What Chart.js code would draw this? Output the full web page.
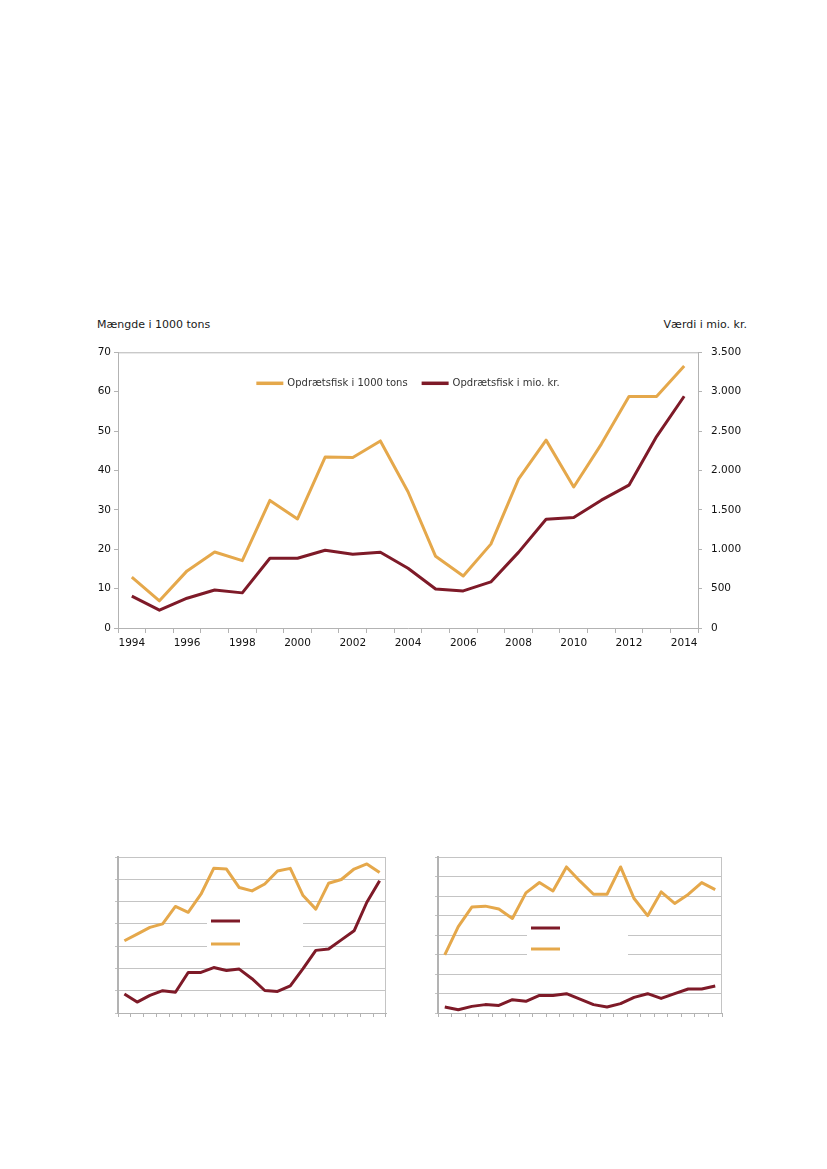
<!DOCTYPE html>
<html>
<head>
<meta charset="utf-8">
<script src="https://cdn.jsdelivr.net/npm/chart.js@4.4.1/dist/chart.umd.min.js"></script>
<style>
  html, body { margin: 0; padding: 0; background: #fff; width: 827px; height: 1169px; overflow: hidden; }
  .box { position: absolute; }
  .ttl { position: absolute; font: 11px "DejaVu Sans", Verdana, sans-serif; color: #1a1a1a; white-space: nowrap; }
</style>
</head>
<body>
<div class="ttl" style="left:97px; top:318px">Mængde i 1000 tons</div>
<div class="ttl" style="right:80px; top:318px">Værdi i mio. kr.</div>
<div class="box" style="left:70px; top:337px; width:720px; height:325px"><canvas id="mainChart"></canvas></div>
<div class="box" style="left:100px; top:845px; width:300px; height:180px"><canvas id="smallA"></canvas></div>
<div class="box" style="left:420px; top:845px; width:320px; height:180px"><canvas id="smallB"></canvas></div>

<script>
// --- 1. Data ---
const years = ['1994', '1995', '1996', '1997', '1998', '1999', '2000', '2001', '2002', '2003', '2004',
               '2005', '2006', '2007', '2008', '2009', '2010', '2011', '2012', '2013', '2014'];
const tonsLabel = 'Opdrætsfisk i 1000 tons';
const mioLabel = 'Opdrætsfisk i mio. kr.';
const tonsData = [12.9, 6.9, 14.5, 19.3, 17.1, 32.4, 27.7, 43.4, 43.3, 47.5, 34.6,
                  18.2, 13.2, 21.3, 37.8, 47.7, 35.8, 46.7, 58.8, 58.8, 66.5];
const mioData = [405, 226, 378, 482, 446, 885, 885, 987, 936, 962, 759,
                 495, 471, 585, 960, 1380, 1402, 1623, 1813, 2430, 2942];
const leftAxis = { max: 70, step: 10 };
const rightAxis = { max: 3500, step: 500 };

// the two small unlabelled panels
const smallARed = [8.5, 4.9, 7.9, 10.0, 9.3, 18.2, 18.2, 20.4, 19.1, 19.7, 15.4,
                   10.1, 9.7, 12.2, 19.9, 28.1, 28.7, 32.8, 36.9, 49.7, 59.3];
const smallAYellow = [32.4, 35.4, 38.4, 40.0, 47.8, 45.2, 53.3, 64.9, 64.6, 56.3, 54.8,
                      57.9, 63.7, 64.9, 52.7, 46.6, 58.2, 59.9, 64.6, 66.9, 63.0];
const smallBRed = [3.1, 1.7, 3.4, 4.3, 3.9, 6.8, 6.0, 9.0, 9.0, 9.9, 7.1,
                   4.3, 3.1, 4.8, 8.0, 9.9, 7.5, 9.9, 12.3, 12.3, 13.8];
const smallBYellow = [29.8, 44.3, 54.3, 54.8, 53.3, 48.5, 61.6, 66.9, 62.6, 74.9, 67.6,
                      60.9, 60.9, 74.9, 58.7, 49.9, 62.1, 56.2, 60.8, 66.9, 63.3];
const smallAAxis = { max: 70, step: 10 };
const smallBAxis = { max: 80, step: 10 };

// --- 2. Style ---
const yellow = '#E5A84B';
const maroon = '#7E1A28';
const axisGray = '#b3b3b3';
const gridGray = '#c4c4c4';
const tickFont = { family: 'DejaVu Sans', size: 10.5 };
const textColor = '#111';

function dotThousands(v) {
    return String(v).replace(/\B(?=(\d{3})+(?!\d))/g, '.');
}

// top + right frame of the plot area
const frameBorder = {
    id: 'frameBorder',
    afterDraw(chart, args, opts) {
        const { ctx, chartArea: a } = chart;
        ctx.save();
        ctx.strokeStyle = opts.color || axisGray;
        ctx.lineWidth = 1;
        ctx.beginPath();
        if (opts.top) { ctx.moveTo(a.left, a.top + 0.5); ctx.lineTo(a.right, a.top + 0.5); }
        if (opts.right) { ctx.moveTo(a.right - 0.5, a.top); ctx.lineTo(a.right - 0.5, a.bottom); }
        ctx.stroke();
        ctx.restore();
    }
};

// legend drawn inside the plot area (main chart)
const innerLegend = {
    id: 'innerLegend',
    afterDatasetsDraw(chart, args, opts) {
        if (!opts.enabled) return;
        const { ctx, chartArea: a } = chart;
        const sets = chart.data.datasets;
        ctx.save();
        ctx.font = '10px "DejaVu Sans"';
        const lineLen = 27, gapText = 4, gapItem = 14;
        let total = 0;
        sets.forEach((d, i) => {
            total += lineLen + gapText + ctx.measureText(d.label).width;
            if (i < sets.length - 1) total += gapItem;
        });
        let x = (a.left + a.right) / 2 - total / 2;
        const y = a.top + opts.offsetY;
        sets.forEach(d => {
            ctx.strokeStyle = d.borderColor;
            ctx.lineWidth = 3.5;
            ctx.beginPath();
            ctx.moveTo(x, y); ctx.lineTo(x + lineLen, y);
            ctx.stroke();
            x += lineLen + gapText;
            ctx.fillStyle = '#333';
            ctx.textBaseline = 'middle';
            ctx.fillText(d.label, x, y + 0.5);
            x += ctx.measureText(d.label).width + gapItem;
        });
        ctx.restore();
    }
};

// white legend box with stacked line samples (small panels)
const boxLegend = {
    id: 'boxLegend',
    afterDatasetsDraw(chart, args, opts) {
        if (!opts.enabled) return;
        const { ctx, chartArea: a } = chart;
        ctx.save();
        ctx.fillStyle = '#fff';
        ctx.fillRect(a.left + opts.x, a.top + opts.y, opts.w, opts.h);
        opts.rows.forEach(r => {
            const d = chart.data.datasets[r.index];
            ctx.strokeStyle = d.borderColor;
            ctx.lineWidth = 3;
            ctx.beginPath();
            ctx.moveTo(a.left + opts.x + 4, a.top + r.y);
            ctx.lineTo(a.left + opts.x + 33, a.top + r.y);
            ctx.stroke();
        });
        ctx.restore();
    }
};

Chart.register(frameBorder, innerLegend, boxLegend);

// --- 3. Main chart ---
new Chart(document.getElementById('mainChart'), {
    type: 'line',
    data: {
        labels: years,
        datasets: [
            { label: tonsLabel, data: tonsData, yAxisID: 'yL', borderColor: yellow, borderWidth: 3 },
            { label: mioLabel, data: mioData, yAxisID: 'yR', borderColor: maroon, borderWidth: 3 }
        ]
    },
    options: {
        responsive: true,
        maintainAspectRatio: false,
        animation: false,
        layout: { padding: { top: 0, left: 0, right: 0, bottom: 0 } },
        elements: { point: { radius: 0 }, line: { tension: 0, borderJoinStyle: 'round' } },
        plugins: {
            legend: { display: false },
            tooltip: { enabled: false },
            frameBorder: { top: true, right: false, color: axisGray },
            innerLegend: { enabled: true, offsetY: 31 },
            boxLegend: { enabled: false }
        },
        scales: {
            x: {
                offset: true,
                grid: { offset: true, drawOnChartArea: false, tickLength: 5, color: axisGray },
                border: { color: axisGray },
                ticks: {
                    autoSkip: false, maxRotation: 0, padding: 4, color: textColor, font: tickFont,
                    callback(v, i) { return i % 2 === 0 ? this.getLabelForValue(v) : ''; }
                },
                afterFit(s) { s.height = 34; }
            },
            yL: {
                position: 'left', min: 0, max: leftAxis.max,
                grid: { drawOnChartArea: false, tickLength: 4, color: axisGray },
                border: { color: axisGray },
                ticks: { stepSize: leftAxis.step, padding: 3, color: textColor, font: tickFont },
                afterFit(s) { s.width = 48; }
            },
            yR: {
                position: 'right', min: 0, max: rightAxis.max,
                grid: { drawOnChartArea: false, tickLength: 4, color: axisGray },
                border: { color: axisGray },
                ticks: { stepSize: rightAxis.step, padding: 9, color: textColor, font: tickFont, callback: v => dotThousands(v) },
                afterFit(s) { s.width = 92; }
            }
        }
    }
});

// --- 4. Small panels ---
function smallPanel(id, red, yel, axis, legendOpts, padRight) {
    new Chart(document.getElementById(id), {
        type: 'line',
        data: {
            labels: years,
            datasets: [
                { label: mioLabel, data: red, borderColor: maroon, borderWidth: 3 },
                { label: tonsLabel, data: yel, borderColor: yellow, borderWidth: 3 }
            ]
        },
        options: {
            responsive: true,
            maintainAspectRatio: false,
            animation: false,
            layout: { padding: { top: 12, right: padRight, left: 0, bottom: 0 } },
            elements: { point: { radius: 0 }, line: { tension: 0, borderJoinStyle: 'round' } },
            plugins: {
                legend: { display: false },
                tooltip: { enabled: false },
                frameBorder: { top: false, right: true, color: gridGray },
                innerLegend: { enabled: false },
                boxLegend: Object.assign({ enabled: true }, legendOpts)
            },
            scales: {
                x: {
                    offset: true,
                    grid: { offset: true, drawOnChartArea: false, tickLength: 4, color: axisGray },
                    border: { color: axisGray },
                    ticks: { display: false, autoSkip: false },
                    afterFit(s) { s.height = 12; }
                },
                y: {
                    min: 0, max: axis.max,
                    grid: { color: gridGray, tickLength: 3 },
                    border: { color: axisGray, width: 2 },
                    ticks: { display: false, stepSize: axis.step },
                    afterFit(s) { s.width = 18; }
                }
            }
        }
    });
}

smallPanel('smallA', smallARed, smallAYellow, smallAAxis,
    { x: 89, y: 53, w: 96, h: 45, rows: [{ index: 0, y: 64 }, { index: 1, y: 87 }] }, 14);
smallPanel('smallB', smallBRed, smallBYellow, smallBAxis,
    { x: 89, y: 61, w: 101, h: 42, rows: [{ index: 0, y: 71 }, { index: 1, y: 92 }] }, 18);
</script>
</body>
</html>
